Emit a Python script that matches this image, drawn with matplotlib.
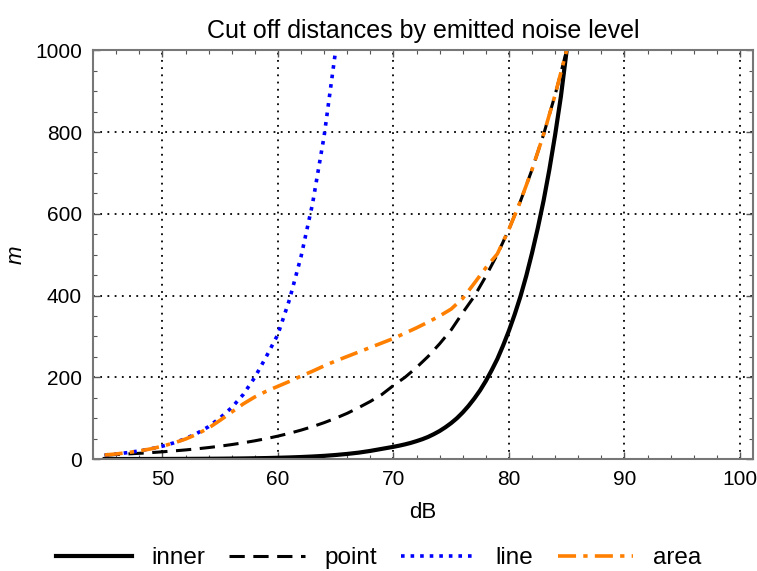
import numpy as np
import matplotlib
matplotlib.use('Agg')
import matplotlib.pyplot as plt
from matplotlib.ticker import MultipleLocator

plt.rcParams['font.family'] = ['Liberation Sans', 'DejaVu Sans']

# emitted noise level (dB), 1 dB steps
db = list(range(45, 86))

# cut off distances (m)
# inner: 1 dB steps up to 70, then 0.5 dB steps where it gets steep
db_inner = list(range(45, 70)) + [70 + 0.5 * i for i in range(31)]
inner = [0.1, 0.13, 0.16, 0.2, 0.25, 0.32, 0.4, 0.5, 0.63, 0.79,
         1.0, 1.26, 1.58, 2.0, 2.5, 3.2, 4.0, 5.0, 6.3, 7.9,
         10, 12.6, 15.8, 20, 25,
         30.0, 32.8, 36.0, 39.6, 43.9, 48.6, 54.2, 61.0, 68.7, 77.8,
         88.1, 100, 114, 130, 148, 168, 191, 217, 245, 278,
         314, 354, 398, 448, 504, 565, 632, 708, 793, 887, 1000]
point = [9, 11.2, 12.6, 14.1, 15.8, 17.8, 20.0, 22.4, 25.1, 28.2,
         31.6, 35.5, 39.8, 44.7, 50.1, 56.2, 63.1, 70.8, 79.4, 89.1,
         100, 112, 126, 141, 158, 180, 200, 224, 251, 282,
         316, 358, 398, 447, 501, 562, 631, 708, 794, 891, 1000]
db_line = list(range(45, 66))
line = [10, 12.6, 15.8, 20, 25.1, 31.6, 39.8, 50.1, 63.1, 79.4,
        101, 126, 158, 200, 251, 305, 390, 495, 625, 790, 1000]
area = [10, 12.6, 15.8, 20, 25, 31.6, 39.5, 49, 61, 76,
        95, 115, 135, 152, 166, 178, 190, 203, 215, 228,
        240, 251, 262, 273, 284, 295, 308, 321, 335, 350,
        367, 393, 430, 468, 502, 562, 631, 708, 794, 891, 1000]

fig = plt.figure(figsize=(7.57, 5.71), dpi=100)
ax = fig.add_axes([0.123, 0.196, 0.872, 0.716])

ax.plot(db_inner, inner, color='black', lw=3, label='inner')
ax.plot(db, point, color='black', lw=2.2, dashes=(5, 2.8), label='point')
ax.plot(db_line, line, color='#0000ff', lw=2.6, linestyle=':', label='line')
ax.plot(db, area, color='#ff8000', lw=2.6, dashes=(5, 2, 1.2, 2), label='area')

ax.set_xlim(44, 101.15)
ax.set_ylim(0, 1000)
ax.xaxis.set_major_locator(MultipleLocator(10))
ax.xaxis.set_minor_locator(MultipleLocator(2))
ax.yaxis.set_major_locator(MultipleLocator(200))
ax.yaxis.set_minor_locator(MultipleLocator(50))
ax.tick_params(which='both', direction='in', top=True, right=True,
               color='#555555', labelsize=15, pad=8)
ax.tick_params(which='major', length=5, width=1)
ax.tick_params(which='minor', length=3, width=0.8)
ax.grid(True, which='major', color='black', linestyle=(0, (1, 3)), lw=1.3)
for s in ax.spines.values():
    s.set_color('#777777')
    s.set_linewidth(1.5)

ax.set_title('Cut off distances by emitted noise level', fontsize=18, pad=9)
ax.set_xlabel('dB', fontsize=16, labelpad=9)
ax.set_ylabel('m', fontsize=16, style='italic', labelpad=6)

fig.legend(loc='lower center', bbox_to_anchor=(0.5, -0.035), ncol=4,
           frameon=False, fontsize=17.5, handlelength=3.1,
           columnspacing=1.0, handletextpad=0.8)

fig.savefig('out.png', dpi=100)
